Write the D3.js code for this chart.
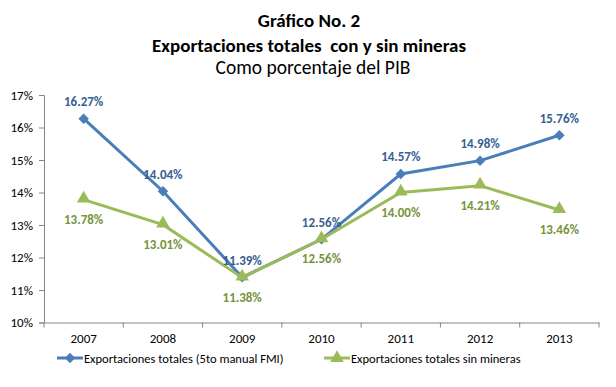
<!DOCTYPE html>
<html>
<head>
<meta charset="utf-8">
<script src="https://cdn.jsdelivr.net/npm/d3@7"></script>
<style>
  body { margin: 0; background: #fff; }
  text { font-family: Carlito, Lato, "Open Sans", sans-serif; }
</style>
</head>
<body>
<svg width="616" height="387"></svg>
<script>
var years = ['2007', '2008', '2009', '2010', '2011', '2012', '2013'];
var totales = [16.27, 14.04, 11.39, 12.56, 14.57, 14.98, 15.76];
var sinMineras = [13.78, 13.01, 11.38, 12.56, 14.00, 14.21, 13.46];
var yTicks = [10, 11, 12, 13, 14, 15, 16, 17];
var seriesNames = ['Exportaciones totales (5to manual FMI)', 'Exportaciones totales sin mineras'];

var svg = d3.select('svg');

var plotLeft = 44, plotRight = 599, plotTop = 95, plotBottom = 322.5;
var fontStack = 'Carlito, Lato, "Open Sans", sans-serif';

///////////////////// TITLE ////////////////////
svg.append('text').attr('x', 309).attr('y', 27).attr('text-anchor', 'middle')
    .style('font-weight', 'bold').style('font-size', '19px').text('Gráfico No. 2');
svg.append('text').attr('x', 309).attr('y', 52).attr('text-anchor', 'middle')
    .style('font-weight', 'bold').style('font-size', '19px').style('white-space', 'pre')
    .text('Exportaciones totales  con y sin mineras');
svg.append('text').attr('x', 313).attr('y', 74).attr('text-anchor', 'middle')
    .style('font-size', '19.5px').text('Como porcentaje del PIB');

///////////////////// SCALES ////////////////////
var xScale = d3.scaleBand().domain(years).range([plotLeft, plotRight]);
var yScale = d3.scaleLinear().domain([10, 17]).range([plotBottom, plotTop]);
var cx = function(d, i) { return xScale(years[i]) + xScale.bandwidth() / 2; };

///////////////////// Y AXIS ////////////////////
var yAxis = d3.axisLeft(yScale).tickValues(yTicks).tickSize(5)
    .tickFormat(function(d) { return d + '%'; });
var gy = svg.append('g').attr('transform', 'translate(' + plotLeft + ',0)').call(yAxis);
gy.select('.domain').attr('stroke', '#868686');
gy.selectAll('.tick line').attr('stroke', '#868686');
gy.selectAll('.tick text').attr('x', -11).style('font-size', '13px').attr('fill', '#000')
    .style('font-family', fontStack);

///////////////////// X AXIS ////////////////////
var xAxis = d3.axisBottom(xScale).tickSize(0).tickPadding(11);
var gx = svg.append('g').attr('transform', 'translate(0,' + plotBottom + ')').call(xAxis);
gx.select('.domain').attr('stroke', '#868686');
gx.selectAll('.tick text').style('font-size', '13px').attr('fill', '#000')
    .style('font-family', fontStack);
// tick marks between categories
svg.append('g').selectAll('line')
    .data(years.concat(['end']))
    .enter().append('line')
    .attr('x1', function(d, i) { return plotLeft + i * xScale.bandwidth(); })
    .attr('x2', function(d, i) { return plotLeft + i * xScale.bandwidth(); })
    .attr('y1', plotBottom).attr('y2', plotBottom + 5)
    .attr('stroke', '#868686');

///////////////////// LINES ////////////////////
var blue = '#4A7EBB', green = '#9BBB59';
var line = d3.line().x(cx).y(function(d) { return yScale(d); });

svg.append('path').datum(totales).attr('d', line)
    .attr('fill', 'none').attr('stroke', blue).attr('stroke-width', 3);
svg.append('path').datum(sinMineras).attr('d', line)
    .attr('fill', 'none').attr('stroke', green).attr('stroke-width', 3);

var diamond = d3.symbol().type(d3.symbolDiamond2).size(70);
var triangle = d3.symbol().type(d3.symbolTriangle).size(80);

svg.append('g').selectAll('path').data(totales).enter().append('path')
    .attr('d', diamond)
    .attr('transform', function(d, i) { return 'translate(' + cx(d, i) + ',' + yScale(d) + ')'; })
    .attr('fill', blue);
svg.append('g').selectAll('path').data(sinMineras).enter().append('path')
    .attr('d', triangle)
    .attr('transform', function(d, i) { return 'translate(' + cx(d, i) + ',' + (yScale(d) - 1) + ')'; })
    .attr('fill', green);

///////////////////// LABELS ////////////////////
svg.append('g').selectAll('text').data(totales).enter().append('text')
    .attr('x', cx).attr('y', function(d) { return yScale(d) - 12.5; })
    .attr('text-anchor', 'middle').style('font-size', '13px').style('font-weight', 'bold')
    .attr('fill', '#376092')
    .text(function(d) { return d.toFixed(2) + '%'; });
svg.append('g').selectAll('text').data(sinMineras).enter().append('text')
    .attr('x', cx).attr('y', function(d) { return yScale(d) + 24; })
    .attr('text-anchor', 'middle').style('font-size', '13px').style('font-weight', 'bold')
    .attr('fill', '#77933C')
    .text(function(d) { return d.toFixed(2) + '%'; });

///////////////////// LEGEND ////////////////////
var legend = [
    { name: seriesNames[0], color: blue, sym: diamond, x: 57 },
    { name: seriesNames[1], color: green, sym: triangle, x: 324 }
];
var lg = svg.append('g').selectAll('g').data(legend).enter().append('g')
    .attr('transform', function(d) { return 'translate(' + d.x + ',358)'; });
lg.append('line').attr('x1', 0).attr('x2', 26).attr('stroke', function(d) { return d.color; })
    .attr('stroke-width', 3);
lg.append('path').attr('d', function(d) { return d.sym(); })
    .attr('transform', 'translate(13,0)').attr('fill', function(d) { return d.color; });
lg.append('text').attr('x', 27).attr('y', 4.5).style('font-size', '12.5px').attr('fill', '#000')
    .text(function(d) { return d.name; });
</script>
</body>
</html>
